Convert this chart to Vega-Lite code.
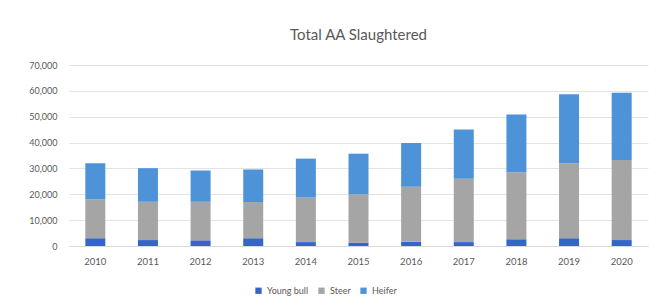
{
  "$schema": "https://vega.github.io/schema/vega-lite/v6.json",
  "autosize": {"type": "none"},
  "width": 579,
  "height": 181,
  "padding": {"left": 69, "top": 65, "right": 14, "bottom": 61},
  "background": "white",
  "title": {"text": "Total AA Slaughtered", "fontSize": 15, "font": "Lato", "fontWeight": "normal", "color": "#595959", "anchor": "middle", "offset": 18},
  "data": {"values": [
    {"year": "2010", "type": "Young bull", "ord": 1, "value": 3000},
    {"year": "2010", "type": "Steer", "ord": 2, "value": 15000},
    {"year": "2010", "type": "Heifer", "ord": 3, "value": 14000},
    {"year": "2011", "type": "Young bull", "ord": 1, "value": 2300},
    {"year": "2011", "type": "Steer", "ord": 2, "value": 14800},
    {"year": "2011", "type": "Heifer", "ord": 3, "value": 13000},
    {"year": "2012", "type": "Young bull", "ord": 1, "value": 2200},
    {"year": "2012", "type": "Steer", "ord": 2, "value": 14900},
    {"year": "2012", "type": "Heifer", "ord": 3, "value": 12100},
    {"year": "2013", "type": "Young bull", "ord": 1, "value": 3000},
    {"year": "2013", "type": "Steer", "ord": 2, "value": 14000},
    {"year": "2013", "type": "Heifer", "ord": 3, "value": 12600},
    {"year": "2014", "type": "Young bull", "ord": 1, "value": 1500},
    {"year": "2014", "type": "Steer", "ord": 2, "value": 17200},
    {"year": "2014", "type": "Heifer", "ord": 3, "value": 15100},
    {"year": "2015", "type": "Young bull", "ord": 1, "value": 1300},
    {"year": "2015", "type": "Steer", "ord": 2, "value": 18700},
    {"year": "2015", "type": "Heifer", "ord": 3, "value": 15700},
    {"year": "2016", "type": "Young bull", "ord": 1, "value": 1700},
    {"year": "2016", "type": "Steer", "ord": 2, "value": 21200},
    {"year": "2016", "type": "Heifer", "ord": 3, "value": 16900},
    {"year": "2017", "type": "Young bull", "ord": 1, "value": 1500},
    {"year": "2017", "type": "Steer", "ord": 2, "value": 24500},
    {"year": "2017", "type": "Heifer", "ord": 3, "value": 19100},
    {"year": "2018", "type": "Young bull", "ord": 1, "value": 2600},
    {"year": "2018", "type": "Steer", "ord": 2, "value": 25900},
    {"year": "2018", "type": "Heifer", "ord": 3, "value": 22400},
    {"year": "2019", "type": "Young bull", "ord": 1, "value": 3000},
    {"year": "2019", "type": "Steer", "ord": 2, "value": 29000},
    {"year": "2019", "type": "Heifer", "ord": 3, "value": 26700},
    {"year": "2020", "type": "Young bull", "ord": 1, "value": 2300},
    {"year": "2020", "type": "Steer", "ord": 2, "value": 31000},
    {"year": "2020", "type": "Heifer", "ord": 3, "value": 26000}
  ]},
  "mark": {"type": "bar"},
  "encoding": {
    "x": {"field": "year", "type": "ordinal", "title": null,
      "scale": {"paddingInner": 0.62, "paddingOuter": 0.31},
      "axis": {"labelAngle": 0, "ticks": false, "domainColor": "#D9D9D9", "labelColor": "#595959", "labelFont": "Lato", "labelFontSize": 9.5, "labelPadding": 10}},
    "y": {"field": "value", "type": "quantitative", "aggregate": "sum", "stack": "zero", "title": null,
      "scale": {"domain": [0, 70000], "nice": false},
      "axis": {"values": [0, 10000, 20000, 30000, 40000, 50000, 60000, 70000], "format": ",.0f", "domain": false, "ticks": false, "gridColor": "#E3E3E3", "labelColor": "#595959", "labelFont": "Lato", "labelFontSize": 9, "labelPadding": 12}},
    "color": {"field": "type", "type": "nominal", "title": null,
      "scale": {"domain": ["Young bull", "Steer", "Heifer"], "range": ["#3565C8", "#A5A5A5", "#4E93D8"]},
      "legend": {"orient": "none", "legendX": 185, "legendY": 221, "direction": "horizontal", "symbolType": "square", "symbolSize": 40, "symbolStrokeWidth": 0, "labelFont": "Lato", "labelFontSize": 9, "labelColor": "#595959", "columnPadding": 8}},
    "order": {"field": "ord", "type": "quantitative", "sort": "ascending"}
  },
  "config": {"view": {"stroke": null}}
}
